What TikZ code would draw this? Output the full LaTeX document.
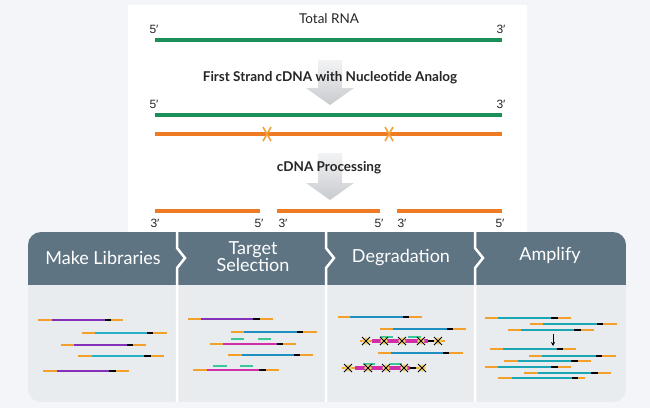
\documentclass[tikz,border=0pt]{standalone}
\usepackage{fontspec}
\setmainfont{Lato}
\newfontfamily\primefont{Liberation Sans}
\usetikzlibrary{arrows.meta}
\definecolor{bgc}{HTML}{F3F5F9}
\definecolor{rnagreen}{HTML}{1A8F5A}
\definecolor{cdnaorange}{HTML}{EE7A22}
\definecolor{xorange}{HTML}{F2A03A}
\definecolor{endorange}{HTML}{F5A02A}
\definecolor{headc}{HTML}{5F7483}
\definecolor{bodyc}{HTML}{E9ECEF}
\definecolor{arrowtop}{HTML}{F2F3F4}
\definecolor{arrowbot}{HTML}{C8CBCF}
\definecolor{purp}{HTML}{8430B8}
\definecolor{magen}{HTML}{D02FA8}
\definecolor{cyanc}{HTML}{26B2C4}
\definecolor{bluec}{HTML}{1F8FC2}
\definecolor{tealc}{HTML}{1BA6B6}
\definecolor{mint}{HTML}{3CC79A}
\definecolor{xyellow}{HTML}{F5D36A}
\newcommand\dnarow[7]{%
  \draw[strand,endorange] (#2,#1) -- (#3,#1);
  \draw[strand,#7] (#3,#1) -- (#4,#1);
  \draw[strand,black] (#4,#1) -- (#5,#1);
  \draw[strand,endorange] (#5,#1) -- (#6,#1);}
\newcommand\xmark[2]{%
  \fill[xyellow] (#1,#2) circle (3.6);
  \draw[black,line width=0.8pt] (#1-4,#2-4) -- (#1+4,#2+4) (#1-4,#2+4) -- (#1+4,#2-4);}
\begin{document}
\begin{tikzpicture}[x=1pt,y=-1pt,
  strand/.style={line width=2.8pt},
  thick strand/.style={line width=4pt},
  toptext/.style={font=\fontsize{13.5}{15}\selectfont, text=black!85, inner sep=1pt},
  boldtext/.style={toptext, font=\bfseries\fontsize{13.5}{15}\selectfont},
  stepname/.style={font=\fontsize{18}{20}\selectfont, text=white, align=center, inner sep=0pt},
  endlabel/.style={font=\primefont\fontsize{12}{13}\selectfont, text=black!85, inner sep=0pt},
  garrow/.style={top color=arrowtop, bottom color=arrowbot}]
\useasboundingbox (0,0) rectangle (650,408);
\fill[bgc] (0,0) rectangle (650,408);
\fill[white] (128,5) rectangle (527,232);
% gray arrows
\shade[garrow] (318,60) -- (342,60) -- (342,88) -- (354,88) -- (330,105) -- (306,88) -- (318,88) -- cycle;
\shade[garrow] (318,153) -- (342,153) -- (342,183) -- (354,183) -- (330,200) -- (306,183) -- (318,183) -- cycle;
% top strands
\node[toptext] (trna) at (329,19) {Total RNA};
\node[endlabel] (a5) at (154,29) {5′};
\node[endlabel] (a3) at (501,29) {3′};
\draw[strand,rnagreen,line width=3.2pt] (155,40) -- (502,40);
\node[boldtext] (fs) at (330,78) {First Strand cDNA with Nucleotide Analog};
\node[endlabel] (b5) at (154,104) {5′};
\node[endlabel] (b3) at (501,104) {3′};
\draw[strand,rnagreen,line width=3.2pt] (155,115) -- (502,115);
\draw[strand,cdnaorange,line width=3.2pt] (155,134) -- (502,134);
\foreach \xx in {267,389}{
  \draw[xorange,line width=1.6pt] (\xx-4,127) -- (\xx+4,141) (\xx+4,127) -- (\xx-4,141);}
\node[boldtext] (cp) at (329,168) {cDNA Processing};
\draw[strand,cdnaorange,line width=3.2pt] (155,211) -- (260,211);
\draw[strand,cdnaorange,line width=3.2pt] (277,211) -- (380,211);
\draw[strand,cdnaorange,line width=3.2pt] (397,211) -- (502,211);
\node[endlabel] (c1) at (155,223) {3′};
\node[endlabel] (c2) at (259,223) {5′};
\node[endlabel] (c3) at (283,223) {3′};
\node[endlabel] (c4) at (379,223) {5′};
\node[endlabel] (c5) at (402,223) {3′};
\node[endlabel] (c6) at (500,223) {5′};
% bottom panel
\begin{scope}
  \clip[rounded corners=13pt] (28,232) rectangle (626,402);
  \fill[bodyc] (28,232) rectangle (626,402);
  \fill[headc] (28,232) rectangle (626,285);
\end{scope}
\foreach \xx in {177,326,475}{
  \draw[white,line width=2.5pt] (\xx,232) -- (\xx,248) -- (\xx+8,258) -- (\xx,268) -- (\xx,402);}
\node[stepname] (s1) at (103,258) {Make Libraries};
\node[stepname] (s2) at (253,257) {Target\\[-3pt]Selection};
\node[stepname] (s3) at (401,258) {Degradation};
\node[stepname] (s4) at (550,255) {Amplify};
% panel 1
\dnarow{320}{38}{52}{105}{111}{123}{purp}
\dnarow{333}{82}{95}{147}{153}{167}{cyanc}
\dnarow{345}{61}{74}{127}{133}{146}{purp}
\dnarow{356}{78}{92}{144}{151}{164}{cyanc}
\dnarow{371}{43}{57}{109}{116}{129}{purp}
% panel 2
\dnarow{319}{188}{201}{253}{260}{273}{purp}
\dnarow{332}{231}{244}{297}{303}{317}{bluec}
\draw[strand,mint] (231,339) -- (244,339) (258,339) -- (271,339);
\dnarow{344}{210}{223}{277}{283}{296}{magen}
\dnarow{355}{228}{242}{294}{300}{313}{bluec}
\draw[strand,mint] (213,366) -- (227,366) (240,366) -- (253,366);
\dnarow{370}{193}{207}{259}{266}{279}{magen}
% panel 3
\dnarow{317}{338}{350}{403}{409}{422}{bluec}
\dnarow{329}{380}{393}{447}{453}{466}{bluec}
\draw[strand,endorange] (360,341) -- (372,341);
\draw[thick strand,magen] (372,341) -- (428,341);
\draw[strand,black] (428,341) -- (434,341);
\draw[strand,endorange] (434,341) -- (445,341);
\draw[line width=2pt,mint] (380,337) -- (393,337) (408,337) -- (421,337);
\foreach \xx in {366,384,402,421,438}{\xmark{\xx}{341}}
\dnarow{353}{378}{391}{443}{449}{463}{bluec}
\draw[strand,endorange] (342,368) -- (355,368);
\draw[thick strand,magen] (355,368) -- (410,368);
\draw[strand,black] (410,368) -- (416,368);
\draw[strand,endorange] (416,368) -- (425,368);
\draw[line width=2pt,mint] (363,364) -- (375,364) (390,364) -- (402,364);
\foreach \xx in {348,368,386,404,422}{\xmark{\xx}{368}}
% panel 4
\dnarow{318}{485}{498}{551}{558}{571}{tealc}
\dnarow{324}{530}{543}{597}{603}{617}{tealc}
\dnarow{330}{508}{521}{574}{581}{594}{tealc}
\coordinate (ampa) at (553,334);
\coordinate (ampb) at (553,346);
\draw[-{Stealth[length=4pt,width=4pt]},line width=1pt] (ampa) -- (ampb);
\dnarow{349}{490}{503}{557}{563}{576}{tealc}
\dnarow{356}{529}{542}{596}{602}{616}{tealc}
\dnarow{361}{504}{518}{571}{578}{591}{tealc}
\dnarow{367}{485}{498}{551}{558}{571}{tealc}
\dnarow{373}{524}{538}{591}{598}{611}{tealc}
\dnarow{378}{498}{512}{572}{578}{585}{tealc}
\end{tikzpicture}
\end{document}
